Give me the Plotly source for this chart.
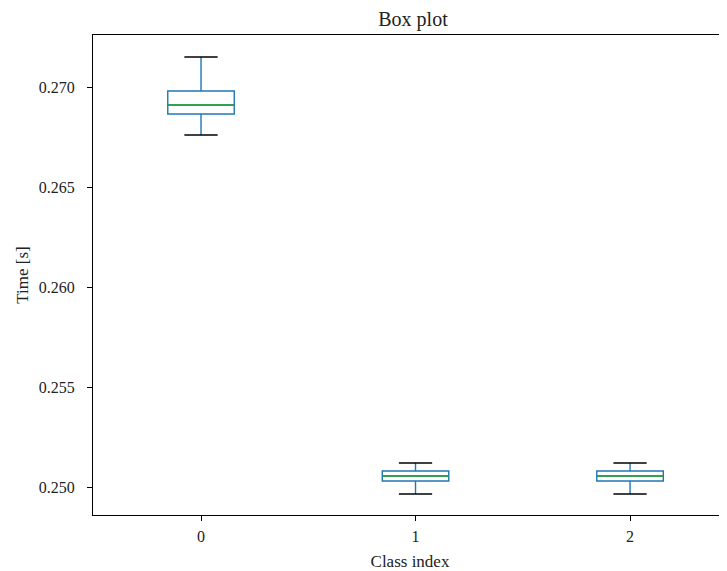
import plotly.graph_objects as go

classes = [0, 1, 2]
q1 = [0.26865, 0.2503, 0.2503]
medians = [0.2691, 0.25055, 0.25055]
q3 = [0.2698, 0.2508, 0.2508]
lower_whisker = [0.2676, 0.24965, 0.24965]
upper_whisker = [0.2715, 0.2512, 0.2512]
y_ticks = [0.250, 0.255, 0.260, 0.265, 0.270]

BOX_W = 0.31
CAP_W = BOX_W / 2
FONT = "Liberation Serif, DejaVu Serif, serif"

fig = go.Figure()
fig.add_trace(go.Box(
    x=classes, q1=q1, median=medians, q3=q3,
    lowerfence=lower_whisker, upperfence=upper_whisker,
    width=BOX_W, whiskerwidth=0,
    fillcolor="rgba(0,0,0,0)",
    line=dict(color="#1f77b4", width=1.4),
    showlegend=False, hoverinfo="skip",
))

# medians (green) and caps (black)
for i, c in enumerate(classes):
    fig.add_trace(go.Scatter(
        x=[c - BOX_W / 2, c + BOX_W / 2], y=[medians[i], medians[i]],
        mode="lines", line=dict(color="#2ca02c", width=1.4),
        showlegend=False, hoverinfo="skip"))
    for v in (lower_whisker[i], upper_whisker[i]):
        fig.add_trace(go.Scatter(
            x=[c - CAP_W / 2, c + CAP_W / 2], y=[v, v],
            mode="lines", line=dict(color="black", width=1.4),
            showlegend=False, hoverinfo="skip"))

axis_common = dict(
    showline=True, linecolor="black", linewidth=1,
    ticks="outside", ticklen=5, tickwidth=1, tickcolor="black",
    showgrid=False, zeroline=False,
    tickfont=dict(family=FONT, size=16, color="#222"),
)

W, H = 719, 563
fig.update_layout(
    width=W, height=H,
    margin=dict(l=85, r=0, t=27, b=56),
    paper_bgcolor="white", plot_bgcolor="white",
    title=dict(text="Box plot", x=405 / W, xanchor="center", xref="container",
               y=1 - 4 / H, yanchor="top", pad=dict(t=0, b=0),
               font=dict(family=FONT, size=20, color="#222")),
    font=dict(family=FONT, color="#222"),
    xaxis=dict(range=[-0.5035, 2.452], tickmode="array", tickvals=classes,
               ticktext=[str(c) for c in classes], ticklabelstandoff=2, mirror=True,
               title=dict(text="Class index", font=dict(family=FONT, size=17), standoff=10),
               **axis_common),
    yaxis=dict(range=[0.2486, 0.2726], tickmode="array", tickvals=y_ticks,
               ticktext=[f"{v:.3f}" for v in y_ticks], ticklabelstandoff=9, mirror=True,
               title=dict(text="Time [s]", font=dict(family=FONT, size=17), standoff=5),
               **axis_common),
)

fig.write_html("out.html")
